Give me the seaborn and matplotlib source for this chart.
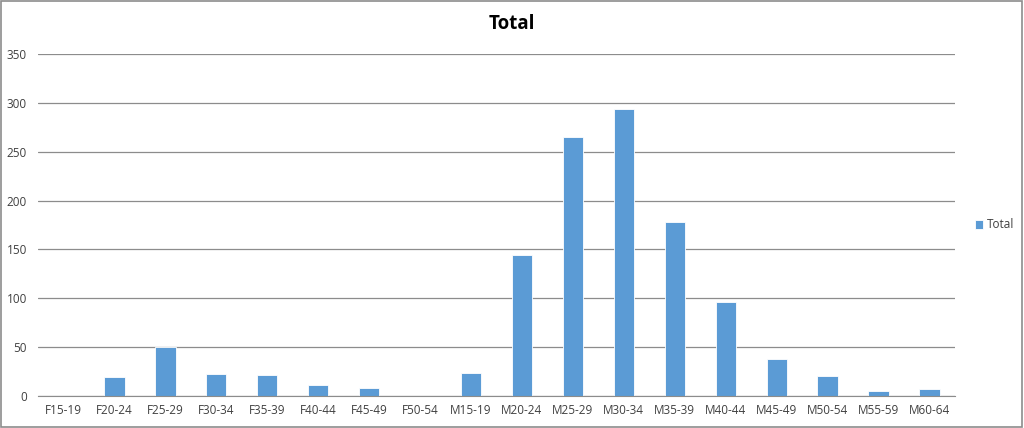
import numpy as np
import pandas as pd
import matplotlib.pyplot as plt
import seaborn as sns
from matplotlib.patches import Rectangle

categories = ['F15-19', 'F20-24', 'F25-29', 'F30-34', 'F35-39', 'F40-44', 'F45-49', 'F50-54',
              'M15-19', 'M20-24', 'M25-29', 'M30-34', 'M35-39', 'M40-44', 'M45-49', 'M50-54',
              'M55-59', 'M60-64']
totals = [0, 19, 50, 23, 21, 11, 8, 0, 24, 144, 265, 294, 178, 96, 38, 20, 5, 7]

df = pd.DataFrame({'grupo': categories, 'Total': totals})

sns.set_style('white')
plt.rcParams['font.family'] = ['Open Sans', 'DejaVu Sans']

fig = plt.figure(figsize=(10.24, 4.28), dpi=100)
ax = fig.add_axes([38 / 1024, 1 - 396 / 428, (955 - 38) / 1024, (396 - 54) / 428])

sns.barplot(data=df, x='grupo', y='Total', color='#5B9BD5', width=0.4, saturation=1,
            edgecolor='#ffffff', linewidth=0.6, ax=ax, label='Total')

ax.set_ylim(0, 350)
ax.set_xlim(-0.5, len(categories) - 0.5)
ax.set_yticks(np.arange(0, 351, 50))
ax.yaxis.grid(True, color='#8c8c8c', linewidth=0.9)
ax.set_axisbelow(True)
ax.set_xlabel('')
ax.set_ylabel('')

for side in ['top', 'right', 'left']:
    ax.spines[side].set_visible(False)
ax.spines['bottom'].set_color('#8c8c8c')

ax.set_xticks(np.arange(-0.5, len(categories), 1.0), minor=True)
ax.tick_params(axis='x', which='minor', length=4, color='#8c8c8c', direction='out')
ax.tick_params(axis='x', which='major', length=0, labelsize=8.5, colors='#404040', pad=6)
ax.tick_params(axis='y', length=0, labelsize=8.5, colors='#404040', pad=8)

fig.text(512 / 1024, 1 - 24 / 428, 'Total', ha='center', va='center',
         fontsize=13.5, fontweight='bold', color='#000000')

leg = ax.legend(loc='center left', bbox_to_anchor=(1.01, 0.5), frameon=False,
                fontsize=8.5, handlelength=0.7, handleheight=0.7, handletextpad=0.3)
for t in leg.get_texts():
    t.set_color('#404040')

fig.patches.append(Rectangle((0.001, 0.002), 0.997, 0.996, transform=fig.transFigure,
                             fill=False, edgecolor='#8c8c8c', linewidth=1.2))

plt.savefig('out.png', dpi=100)
plt.close()
